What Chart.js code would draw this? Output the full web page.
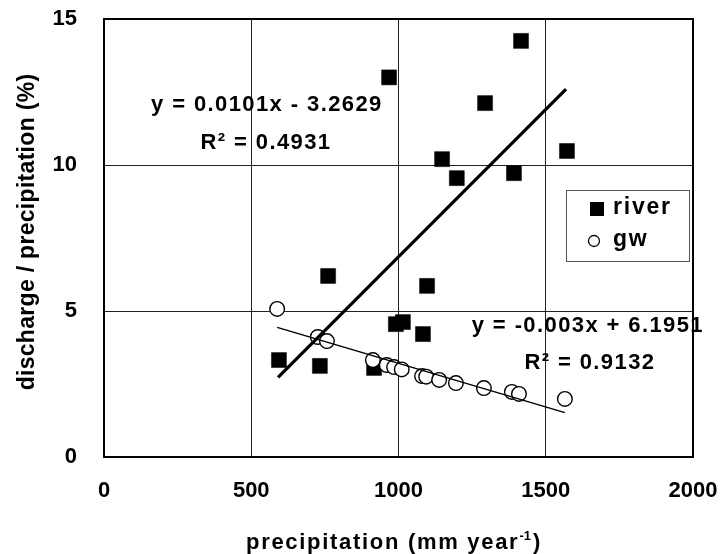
<!DOCTYPE html>
<html>
<head>
<meta charset="utf-8">
<script src="https://cdn.jsdelivr.net/npm/chart.js@4"></script>
<style>
  html, body { margin: 0; padding: 0; background: #fff; }
  #wrap { width: 722px; height: 554px; }
</style>
</head>
<body>
<div id="wrap"><canvas id="chart" width="722" height="554"></canvas></div>
<script>
// precipitation (mm/yr) vs discharge/precipitation (%)
const riverX = [594, 733, 761, 917, 968, 991, 1015, 1083, 1097, 1148, 1198, 1294, 1392, 1416, 1572];
const riverY = [3.32, 3.12, 6.2, 3.05, 13.0, 4.55, 4.62, 4.21, 5.86, 10.2, 9.55, 12.12, 9.72, 14.25, 10.48];

const gwX = [588, 726, 757, 913, 960, 985, 1011, 1080, 1094, 1138, 1195, 1290, 1385, 1409, 1565];
const gwY = [5.07, 4.11, 3.97, 3.32, 3.15, 3.08, 3.0, 2.77, 2.75, 2.64, 2.53, 2.36, 2.23, 2.16, 1.99];

// fitted trend lines, end points
const riverFitX = [591, 1569];
const riverFitY = [2.73, 12.6];
const gwFitX = [588, 1565];
const gwFitY = [4.44, 1.52];

const xTicks = [0, 500, 1000, 1500, 2000];
const yTicks = [0, 5, 10, 15];

// equation labels, anchored in data units
const noteText = ['y = 0.0101x - 3.2629', 'R\u00B2 = 0.4931', 'y = -0.003x + 6.1951', 'R\u00B2 = 0.9132'];
const noteX = [553, 550, 1643, 1650];
const noteY = [12.05, 10.75, 4.49, 3.22];

const FONT = '"Liberation Sans", Arial, sans-serif';

const toPts = (xs, ys) => xs.map((x, i) => ({ x: x, y: ys[i] }));

function setSpacing(ctx, v) {
    if ('letterSpacing' in ctx) ctx.letterSpacing = v + 'px';
}

const extras = {
    id: 'extras',
    beforeDatasetsDraw(chart) {
        const { ctx, chartArea: a } = chart;
        ctx.save();
        ctx.strokeStyle = '#000';
        ctx.lineWidth = 2;
        ctx.strokeRect(a.left, a.top, a.right - a.left, a.bottom - a.top);
        ctx.restore();
    },
    afterDatasetsDraw(chart) {
        const { ctx, chartArea: a, scales } = chart;
        ctx.save();
        ctx.fillStyle = '#000';
        ctx.textAlign = 'center';
        ctx.textBaseline = 'middle';

        // trend equations
        ctx.font = 'bold 22px ' + FONT;
        setSpacing(ctx, 1.4);
        noteText.forEach((t, i) => {
            ctx.fillText(t, scales.x.getPixelForValue(noteX[i]), scales.y.getPixelForValue(noteY[i]));
        });

        // legend box
        const lx = a.right - 127, ly = a.top + 171, lw = 123, lh = 71;
        ctx.fillStyle = '#fff';
        ctx.fillRect(lx, ly, lw, lh);
        ctx.strokeStyle = '#555';
        ctx.lineWidth = 1;
        ctx.strokeRect(lx + 0.5, ly + 0.5, lw, lh);
        const ds = chart.data.datasets;
        const rows = [ds[2], ds[3]];
        ctx.textAlign = 'left';
        ctx.font = 'bold 23px ' + FONT;
        setSpacing(ctx, 1.8);
        rows.forEach((d, i) => {
            const cy = ly + 19 + i * 32;
            if (i === 0) {
                ctx.fillStyle = d.backgroundColor;
                ctx.fillRect(lx + 24, cy - 7, 14, 14);
            } else {
                ctx.beginPath();
                ctx.arc(lx + 28, cy, 5.5, 0, Math.PI * 2);
                ctx.fillStyle = d.backgroundColor;
                ctx.fill();
                ctx.strokeStyle = d.borderColor;
                ctx.lineWidth = 1.3;
                ctx.stroke();
            }
            ctx.fillStyle = '#000';
            ctx.fillText(d.label, lx + 47, cy - 1);
        });

        // axis titles
        ctx.font = 'bold 23px ' + FONT;
        setSpacing(ctx, 0.3);
        ctx.save();
        ctx.translate(28, 232);
        ctx.rotate(-Math.PI / 2);
        ctx.textAlign = 'center';
        ctx.fillText('discharge / precipitation (%)', 0, 0);
        ctx.restore();

        ctx.textBaseline = 'alphabetic';
        ctx.font = 'bold 22px ' + FONT;
        setSpacing(ctx, 1.7);
        const main = 'precipitation (mm year';
        const wMain = ctx.measureText(main).width;
        const wClose = ctx.measureText(')').width;
        ctx.font = 'bold 13px ' + FONT;
        setSpacing(ctx, 0);
        const wSup = ctx.measureText('-1').width + 2;
        const total = wMain + wSup + wClose;
        let tx = 394 - total / 2;
        const ty = 549;
        ctx.textAlign = 'left';
        ctx.font = 'bold 22px ' + FONT;
        setSpacing(ctx, 1.7);
        ctx.fillText(main, tx, ty);
        tx += wMain;
        ctx.font = 'bold 13px ' + FONT;
        setSpacing(ctx, 0);
        ctx.fillText('-1', tx, ty - 9);
        tx += wSup;
        ctx.font = 'bold 22px ' + FONT;
        ctx.fillText(')', tx, ty);
        ctx.restore();
    }
};

const ctx = document.getElementById('chart').getContext('2d');
new Chart(ctx, {
    type: 'scatter',
    data: {
        datasets: [
            {
                label: 'river fit',
                type: 'line',
                data: toPts(riverFitX, riverFitY),
                borderColor: '#000',
                borderWidth: 3.2,
                pointRadius: 0,
                showLine: true,
                fill: false,
                order: 0
            },
            {
                label: 'gw fit',
                type: 'line',
                data: toPts(gwFitX, gwFitY),
                borderColor: '#000',
                borderWidth: 1.5,
                pointRadius: 0,
                showLine: true,
                fill: false,
                order: 0
            },
            {
                label: 'river',
                data: toPts(riverX, riverY),
                pointStyle: 'rect',
                pointRadius: 10.6,
                backgroundColor: '#000',
                borderColor: '#000',
                borderWidth: 0.5,
                order: 2
            },
            {
                label: 'gw',
                data: toPts(gwX, gwY),
                pointStyle: 'circle',
                pointRadius: 7.3,
                backgroundColor: '#fff',
                borderColor: '#000',
                borderWidth: 1.4,
                order: 1
            }
        ]
    },
    options: {
        responsive: false,
        animation: false,
        devicePixelRatio: 1,
        layout: { padding: { top: 19, right: 29, left: 0, bottom: 0 } },
        plugins: {
            legend: { display: false },
            tooltip: { enabled: false }
        },
        scales: {
            x: {
                type: 'linear',
                min: 0,
                max: 2000,
                afterBuildTicks: s => { s.ticks = xTicks.map(v => ({ value: v })); },
                afterFit: s => { s.height = 97; s.paddingLeft = 0; s.paddingRight = 0; },
                grid: { color: '#222', lineWidth: 1, drawTicks: false },
                border: { display: false },
                ticks: {
                    color: '#000',
                    padding: 21,
                    maxRotation: 0,
                    callback: v => String(v),
                    font: { family: FONT, size: 22, weight: 'bold' }
                }
            },
            y: {
                type: 'linear',
                min: 0,
                max: 15,
                afterBuildTicks: s => { s.ticks = yTicks.map(v => ({ value: v })); },
                afterFit: s => { s.width = 104; s.paddingTop = 0; s.paddingBottom = 0; },
                grid: { color: '#222', lineWidth: 1, drawTicks: false },
                border: { display: false },
                ticks: {
                    color: '#000',
                    padding: 27,
                    callback: v => String(v),
                    font: { family: FONT, size: 22, weight: 'bold' }
                }
            }
        }
    },
    plugins: [extras]
});
</script>
</body>
</html>
